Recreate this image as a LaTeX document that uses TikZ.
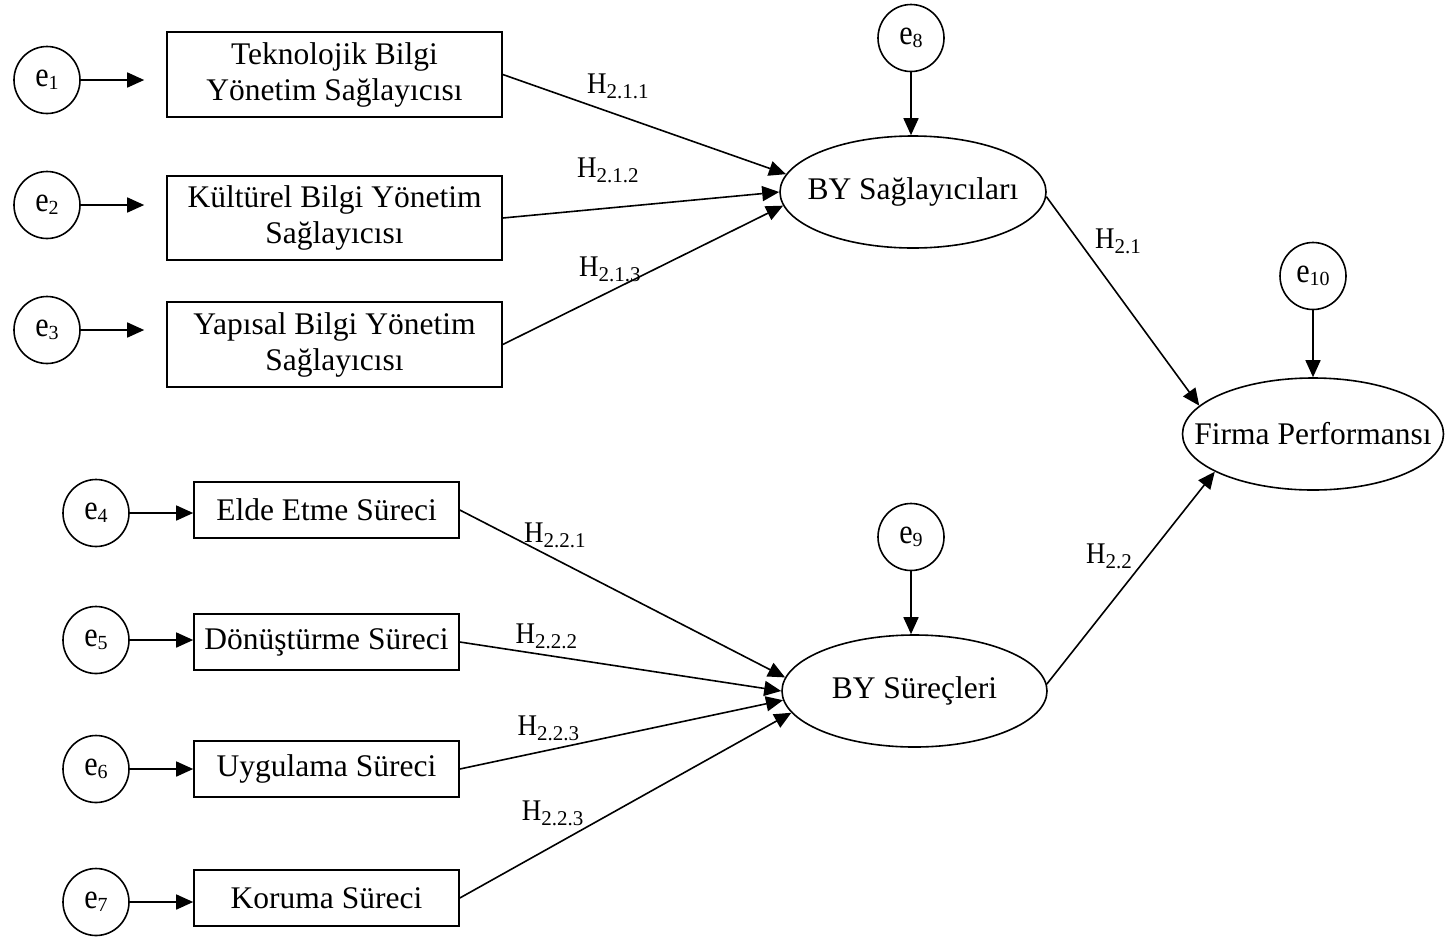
\documentclass[tikz,border=0pt]{standalone}
\usepackage{fontspec}
\usepackage{graphicx}
\setmainfont{Liberation Serif}
\usetikzlibrary{arrows.meta,shapes.geometric}

% text sizes
\newcommand{\mainsize}{\fontsize{31.5}{36}\selectfont}
% error term label: e with a lowered index
\newcommand{\errlbl}[1]{\scalebox{0.86}[1]{\fontsize{35}{35}\selectfont e}\raisebox{-3pt}{\fontsize{20}{20}\selectfont #1}}
% hypothesis label: H with a lowered index
\newcommand{\hyplbl}[1]{\scalebox{0.9}[1]{\fontsize{30}{30}\selectfont H}\raisebox{-5pt}{\fontsize{21}{21}\selectfont #1}}

\tikzset{
  errnode/.style={ellipse, draw, line width=1.6pt, inner sep=0pt,
                  minimum width=66pt, minimum height=67pt},
  obsnode/.style={rectangle, draw, line width=1.6pt, inner sep=0pt,
                  font=\mainsize, align=center},
  latnode/.style={ellipse, draw, line width=1.6pt, inner sep=0pt},
  hyplabel/.style={anchor=base west, inner sep=0pt},
  link/.style={-{Triangle[length=17pt,width=15pt]}, line width=1.6pt}
}

\begin{document}
\begin{tikzpicture}[x=1pt, y=-1pt]
  \useasboundingbox (0,0) rectangle (1445,938);

  % indicator boxes, upper group
  \node[obsnode, minimum width=335pt, minimum height=85pt] (b1) at (334.5,74.5)
    {Teknolojik Bilgi\\Yönetim Sağlayıcısı};
  \node[obsnode, minimum width=335pt, minimum height=84pt] (b2) at (334.5,218)
    {Kültürel Bilgi Yönetim\\Sağlayıcısı};
  \node[obsnode, minimum width=335pt, minimum height=85pt] (b3) at (334.5,344.5)
    {Yapısal Bilgi Yönetim\\Sağlayıcısı};

  % indicator boxes, lower group
  \node[obsnode, minimum width=265pt, minimum height=56pt] (b4) at (326.5,510) {Elde Etme Süreci};
  \node[obsnode, minimum width=265pt, minimum height=56pt] (b5) at (326.5,642) {Dönüştürme Süreci};
  \node[obsnode, minimum width=265pt, minimum height=56pt] (b6) at (326.5,769) {Uygulama Süreci};
  \node[obsnode, minimum width=265pt, minimum height=56pt] (b7) at (326.5,898) {Koruma Süreci};

  % error terms
  \node[errnode] (e1) at (47,80)    {\errlbl{1}};
  \node[errnode] (e2) at (47,205)   {\errlbl{2}};
  \node[errnode] (e3) at (47,330)   {\errlbl{3}};
  \node[errnode] (e4) at (96,513)   {\errlbl{4}};
  \node[errnode] (e5) at (96,640)   {\errlbl{5}};
  \node[errnode] (e6) at (96,769)   {\errlbl{6}};
  \node[errnode] (e7) at (96,902)   {\errlbl{7}};
  \node[errnode] (e8) at (911,38)   {\errlbl{8}};
  \node[errnode] (e9) at (911,537)  {\errlbl{9}};
  \node[errnode] (e10) at (1313,276) {\errlbl{10}};

  % latent constructs
  \node[latnode, minimum width=266pt, minimum height=112pt,
        label={center:{\mainsize BY Sağlayıcıları}}] (bys) at (913,192) {};
  \node[latnode, minimum width=265pt, minimum height=112pt,
        label={center:{\mainsize BY Süreçleri}}] (bysr) at (914.5,691) {};
  \node[latnode, minimum width=261pt, minimum height=112pt,
        label={center:{\mainsize Firma Performansı}}] (fp) at (1313,434) {};

  % error arrows
  \draw[link, shorten >=22pt] (e1.east) -- (e1.east -| b1.west);
  \draw[link, shorten >=22pt] (e2.east) -- (e2.east -| b2.west);
  \draw[link, shorten >=22pt] (e3.east) -- (e3.east -| b3.west);
  \draw[link] (e4.east) -- (e4.east -| b4.west);
  \draw[link] (e5.east) -- (e5.east -| b5.west);
  \draw[link] (e6.east) -- (e6.east -| b6.west);
  \draw[link] (e7.east) -- (e7.east -| b7.west);
  \draw[link] (e8.south) -- (e8.south |- bys.north);
  \draw[link] (e9.south) -- (e9.south |- bysr.north);
  \draw[link] (e10.south) -- (e10.south |- fp.north);

  % structural paths
  \draw[link] (b1.east) -- (bys.172);
  \draw[link] (b2.east) -- (bys.180);
  \draw[link] (b3.east) -- (bys.186);
  \draw[link] (b4.east) -- (bysr.174);
  \draw[link] (b5.east) -- (bysr.180);
  \draw[link] (b6.east) -- (bysr.184);
  \draw[link] (b7.east) -- (bysr.190);
  \draw[link] (bys.358) -- (fp.166);
  \draw[link] (bysr.3) -- (fp.201);

  % hypothesis labels
  \node[hyplabel] (h211) at (587,93)    {\hyplbl{2.1.1}};
  \node[hyplabel] (h212) at (577,177)   {\hyplbl{2.1.2}};
  \node[hyplabel] (h213) at (579,276)   {\hyplbl{2.1.3}};
  \node[hyplabel] (h21)  at (1095,248)  {\hyplbl{2.1}};
  \node[hyplabel] (h221) at (524,542)   {\hyplbl{2.2.1}};
  \node[hyplabel] (h222) at (515.5,643) {\hyplbl{2.2.2}};
  \node[hyplabel] (h223) at (517.5,735) {\hyplbl{2.2.3}};
  \node[hyplabel] (h224) at (521.6,820) {\hyplbl{2.2.3}};
  \node[hyplabel] (h22)  at (1086,563)  {\hyplbl{2.2}};
\end{tikzpicture}
\end{document}
